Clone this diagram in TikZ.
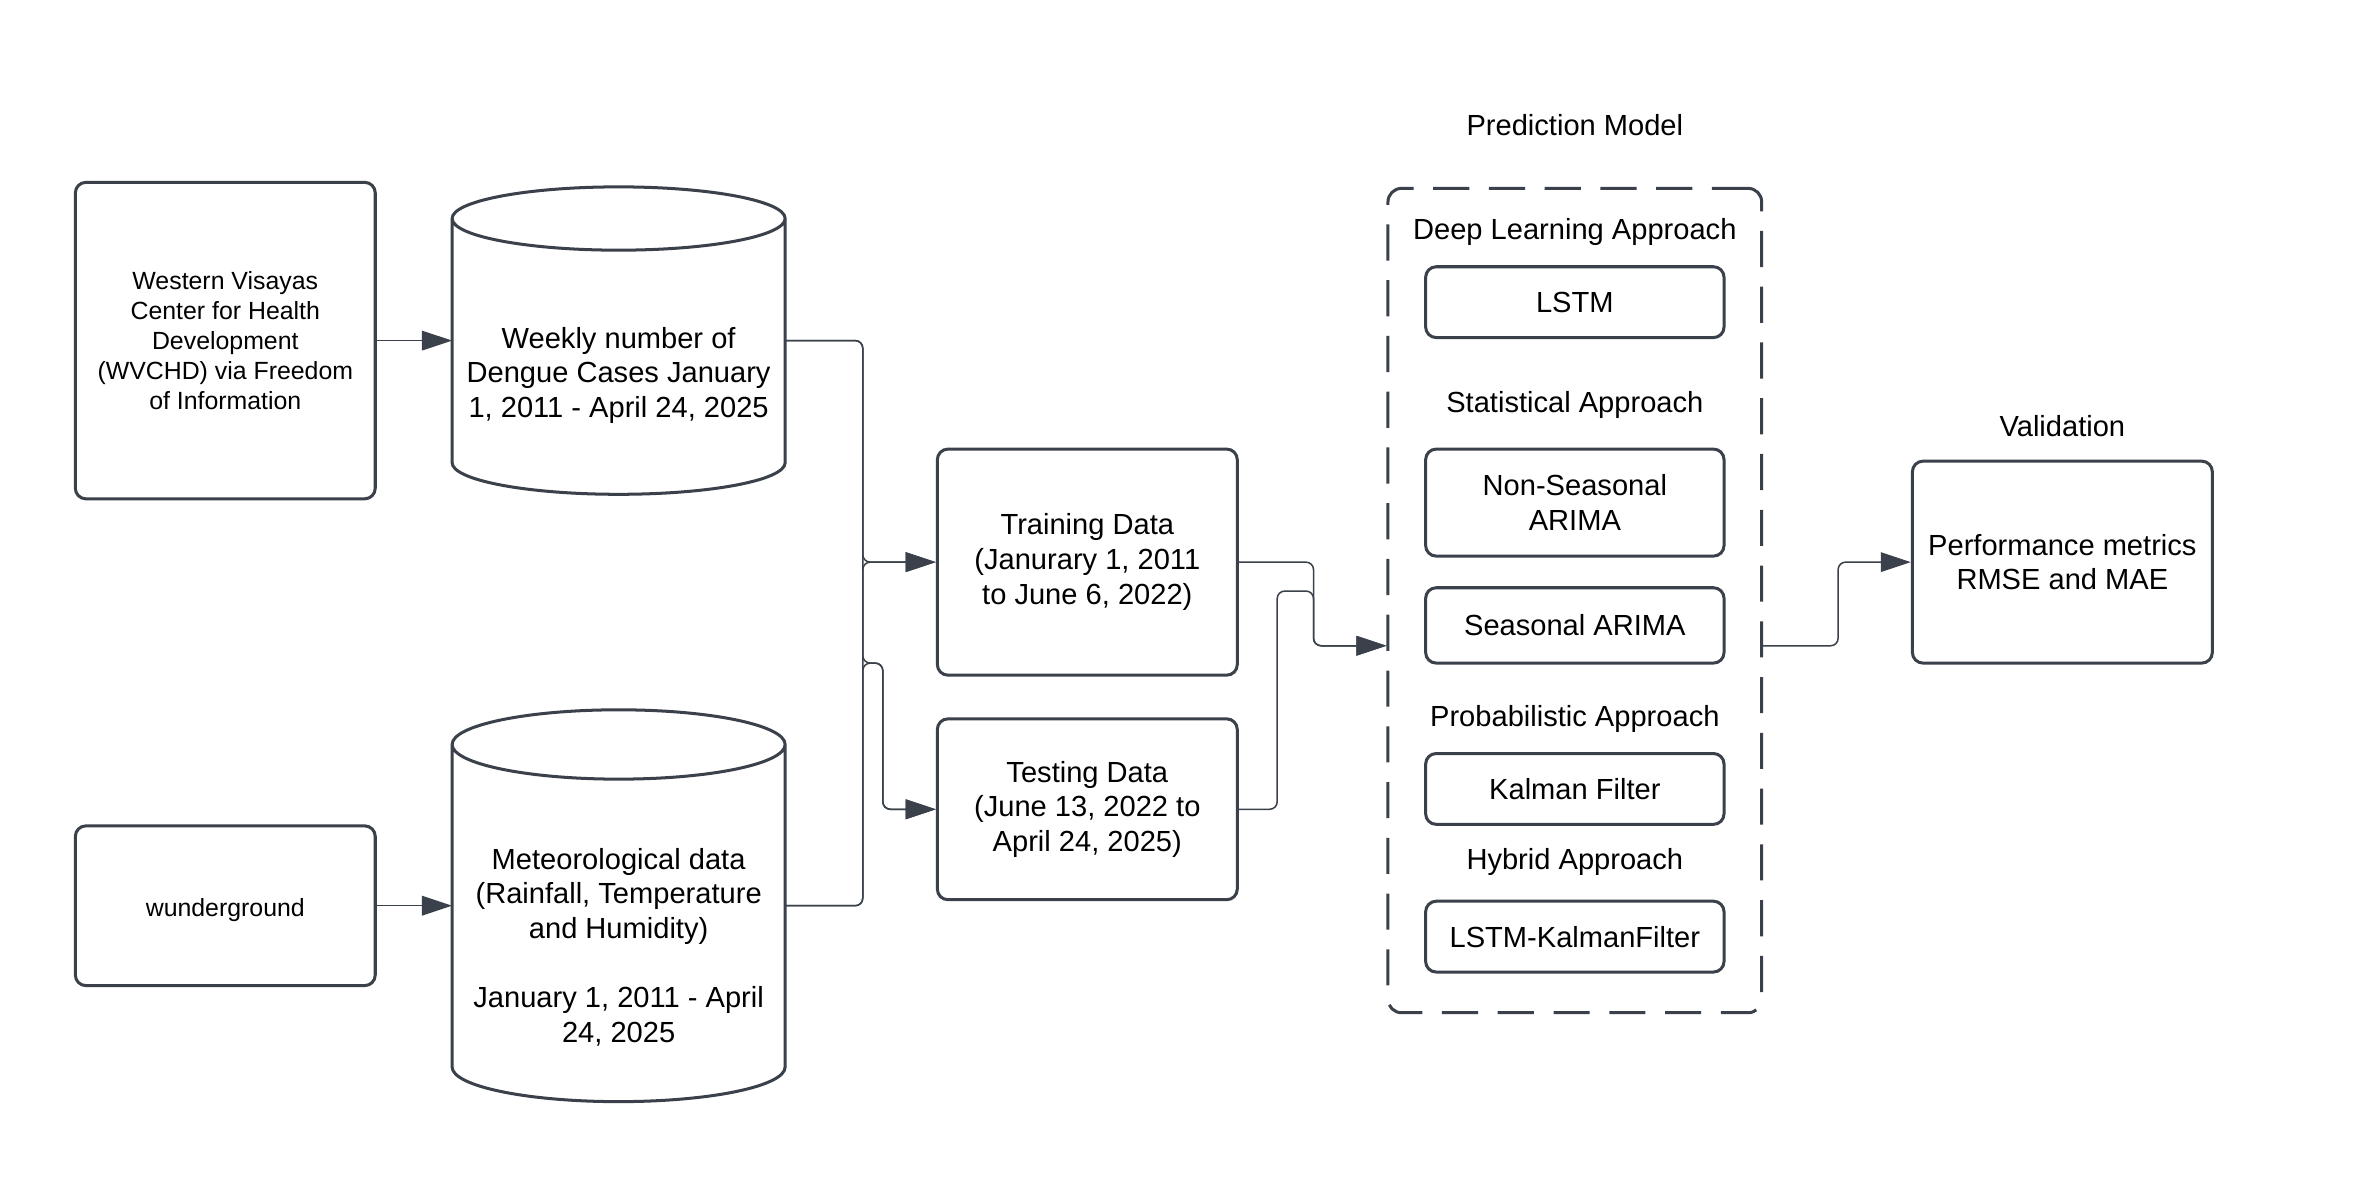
\documentclass[tikz,border=0pt]{standalone}
\usepackage{fontspec}
\setmainfont{Liberation Sans}
\usetikzlibrary{arrows.meta}

\definecolor{edgegray}{HTML}{3A414A}

\tikzset{
  block/.style={draw=edgegray, line width=2pt, rounded corners=7pt, align=center, inner sep=0pt,
    font=\fontsize{19.3}{23}\selectfont},
  single/.style={text height=13.8pt, text depth=0pt},
  smallblock/.style={block, font=\fontsize{16.5}{19.75}\selectfont},
  drum/.style={inner sep=0pt, outer sep=0pt},
  drumline/.style={draw=edgegray, line width=2pt},
  drumtext/.style={align=center, inner sep=0pt, font=\fontsize{19.3}{23}\selectfont},
  heading/.style={inner sep=0pt, font=\fontsize{19.3}{23}\selectfont, single},
  link/.style={draw=edgegray, line width=1pt, rounded corners=5pt, -{Triangle[length=20pt,width=13pt]}},
  group/.style={draw=edgegray, line width=2pt, rounded corners=9pt, dash pattern=on 24pt off 13pt}
}

\begin{document}
\begin{tikzpicture}[x=1pt,y=1pt]
\useasboundingbox (0,0) rectangle (1568,-781.7);

\node[smallblock, minimum width=199, minimum height=210] (wvchd) at (149.5,-226) {Western Visayas\\Center for Health\\Development\\(WVCHD) via Freedom\\of Information};
\node[smallblock, single, minimum width=199, minimum height=106] (wund) at (149.5,-601) {wunderground};

\node[drum, minimum width=221, minimum height=204] (dengue) at (410.5,-226) {};
\draw[drumline] ([yshift=-21]dengue.north west) -- ([yshift=21]dengue.south west) arc[start angle=180, end angle=360, x radius=110.5, y radius=21] -- ([yshift=-21]dengue.north east) arc[start angle=0, end angle=360, x radius=110.5, y radius=21];
\node[drumtext] (denguetxt) at (410.5,-249) {Weekly number of\\Dengue Cases January\\1, 2011 - April 24, 2025};

\node[drum, minimum width=221, minimum height=260] (meteo) at (410.5,-601) {};
\draw[drumline] ([yshift=-23]meteo.north west) -- ([yshift=23]meteo.south west) arc[start angle=180, end angle=360, x radius=110.5, y radius=23] -- ([yshift=-23]meteo.north east) arc[start angle=0, end angle=360, x radius=110.5, y radius=23];
\node[drumtext] (meteotxt) at (410.5,-628.5) {Meteorological data\\(Rainfall, Temperature\\and Humidity)\\[23pt]January 1, 2011 - April\\24, 2025};

\node[block, minimum width=199, minimum height=150] (train) at (721.5,-373) {Training Data\\(Janurary 1, 2011\\to June 6, 2022)};
\node[block, minimum width=199, minimum height=120] (test) at (721.5,-537) {Testing Data\\(June 13, 2022 to\\April 24, 2025)};

\node[heading] (predtitle) at (1045,-83) {Prediction Model};
\node[group, minimum width=248, minimum height=547] (pred) at (1045,-398.5) {};
\node[heading] (deeptitle) at (1045,-152) {Deep Learning Approach};
\node[block, single, minimum width=198, minimum height=47] (lstm) at (1045,-200.5) {LSTM};
\node[heading] (stattitle) at (1045,-267) {Statistical Approach};
\node[block, minimum width=198, minimum height=71] (nsarima) at (1045,-333.5) {Non-Seasonal\\ARIMA};
\node[block, single, minimum width=198, minimum height=50] (sarima) at (1045,-415) {Seasonal ARIMA};
\node[heading] (probtitle) at (1045,-475) {Probabilistic Approach};
\node[block, single, minimum width=198, minimum height=47] (kalman) at (1045,-523.5) {Kalman Filter};
\node[heading] (hybtitle) at (1045,-570) {Hybrid Approach};
\node[block, single, minimum width=198, minimum height=47] (hybrid) at (1045,-621.5) {LSTM-KalmanFilter};

\node[heading] (valtitle) at (1368.5,-283) {Validation};
\node[block, minimum width=199, minimum height=134] (perf) at (1368.5,-373) {Performance metrics\\RMSE and MAE};

\coordinate (predin) at ([yshift=-30]pred.west);
\coordinate (predout) at ([yshift=-30]pred.east);

\draw[link] (wvchd.east) -- (dengue.west);
\draw[link] (wund.east) -- (meteo.west);
\draw[link] (dengue.east) -- ++(51.5,0) |- (train.west);
\draw[link] (dengue.east) -- ++(51.5,0) -- ++(0,-214) -- ++(13.3,0) |- (test.west);
\draw[link] (meteo.east) -- ++(51.5,0) |- (train.west);
\draw[link] (meteo.east) -- ++(51.5,0) -- ++(0,161) -- ++(13.3,0) |- (test.west);
\draw[link] (train.east) -- ++(49.6,0) |- (predin);
\draw[link] (test.east) -- ++(25.5,0) -- ++(0,144.8) -- ++(24.1,0) |- (predin);
\draw[link] (predout) -- ++(49.7,0) |- (perf.west);
\end{tikzpicture}
\end{document}
